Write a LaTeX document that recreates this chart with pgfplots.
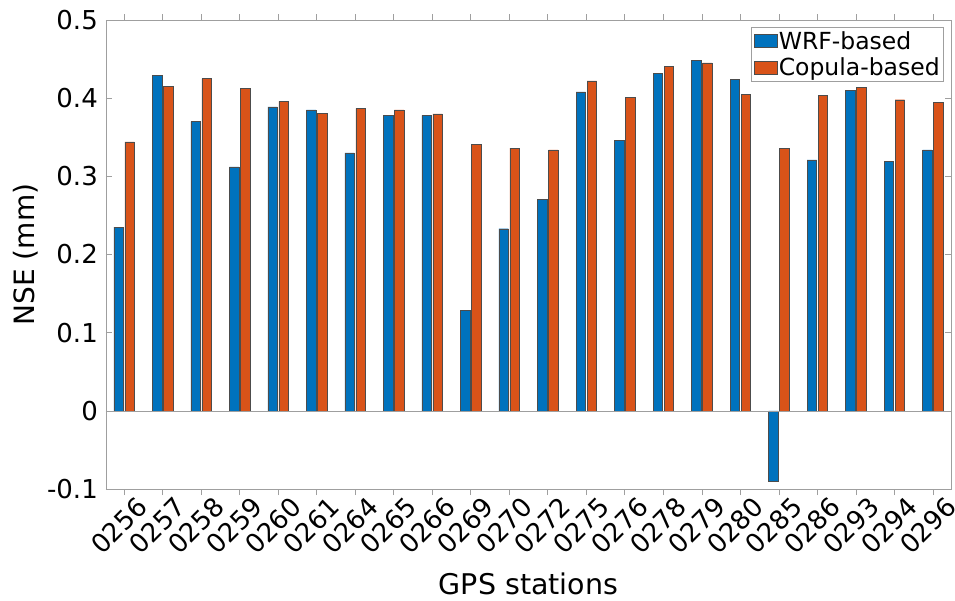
\documentclass[border=0pt]{standalone}
\usepackage{pgfplots}
\pgfplotsset{compat=1.18}
\usepackage{fontspec}
\setmainfont{DejaVu Sans}
\definecolor{mblue}{rgb}{0,0.447,0.741}
\definecolor{morange}{rgb}{0.85,0.325,0.098}
\begin{document}
\begin{tikzpicture}
\begin{axis}[
  at={(0pt,0pt)}, anchor=south west,
  scale only axis,
  width=845pt, height=469pt,
  xmin=-0.47, xmax=21.47,
  ymin=-0.1, ymax=0.5,
  ytick={-0.1,0,0.1,0.2,0.3,0.4,0.5},
  yticklabels={-0.1,0,0.1,0.2,0.3,0.4,0.5},
  xtick={0,...,21},
  xticklabels={0256,0257,0258,0259,0260,0261,0264,0265,0266,0269,0270,0272,0275,0276,0278,0279,0280,0285,0286,0293,0294,0296},
  x tick label style={rotate=45, anchor=east, inner sep=0pt, xshift=8pt, yshift=-18pt},
  y tick label style={inner sep=0pt, xshift=-8pt},
  tick label style={font=\fontsize{26}{30}\selectfont},
  /pgf/number format/assume math mode=true,
  tick align=inside,
  major tick length=6pt,
  axis line style={gray!75, line width=0.6pt},
  every tick/.style={gray!75, line width=0.6pt},
  xlabel={GPS stations},
  ylabel={NSE (mm)},
  every axis x label/.style={at={(axis description cs:0.5,0)}, anchor=base, yshift=-105pt, font=\fontsize{28.5}{32}\selectfont},
  every axis y label/.style={at={(axis description cs:0,0.5)}, xshift=-71pt, rotate=90, anchor=base, font=\fontsize{28}{32}\selectfont},
  ybar=1.5pt,
  bar width=9.5pt,
  legend style={at={(axis description cs:1,1)}, anchor=north east, xshift=-7pt, yshift=-7pt,
    draw=gray!75, line width=0.6pt, fill=white,
    font=\fontsize{23.5}{26}\selectfont, inner sep=3pt, row sep=5pt,
    nodes={inner sep=1pt},
    /tikz/every even column/.append style={column sep=0pt}},
  legend image code/.code={\draw[#1, draw=black!70, line width=0.5pt] (0pt,-6.5pt) rectangle (23pt,6.5pt);},
  legend cell align=left,
]
\addplot[fill=mblue, draw=black!70, line width=0.4pt] coordinates {
(0,0.235) (1,0.429) (2,0.370) (3,0.312) (4,0.389) (5,0.385) (6,0.330) (7,0.378) (8,0.378) (9,0.129) (10,0.233)
(11,0.271) (12,0.408) (13,0.346) (14,0.432) (15,0.448) (16,0.424) (17,-0.090) (18,0.321) (19,0.410) (20,0.319) (21,0.334)};
\addlegendentry{WRF-based}
\addplot[fill=morange, draw=black!70, line width=0.4pt] coordinates {
(0,0.344) (1,0.415) (2,0.425) (3,0.413) (4,0.396) (5,0.381) (6,0.387) (7,0.385) (8,0.380) (9,0.341) (10,0.336)
(11,0.334) (12,0.422) (13,0.401) (14,0.441) (15,0.445) (16,0.405) (17,0.336) (18,0.404) (19,0.414) (20,0.398) (21,0.395)};
\addlegendentry{Copula-based}
\addplot[sharp plot, gray!75, line width=0.6pt, forget plot] coordinates {(-0.47,0) (21.47,0)};
\end{axis}
\pgfresetboundingbox
\path (-106pt,-111pt) rectangle (849pt,489pt);
\end{tikzpicture}
\end{document}
